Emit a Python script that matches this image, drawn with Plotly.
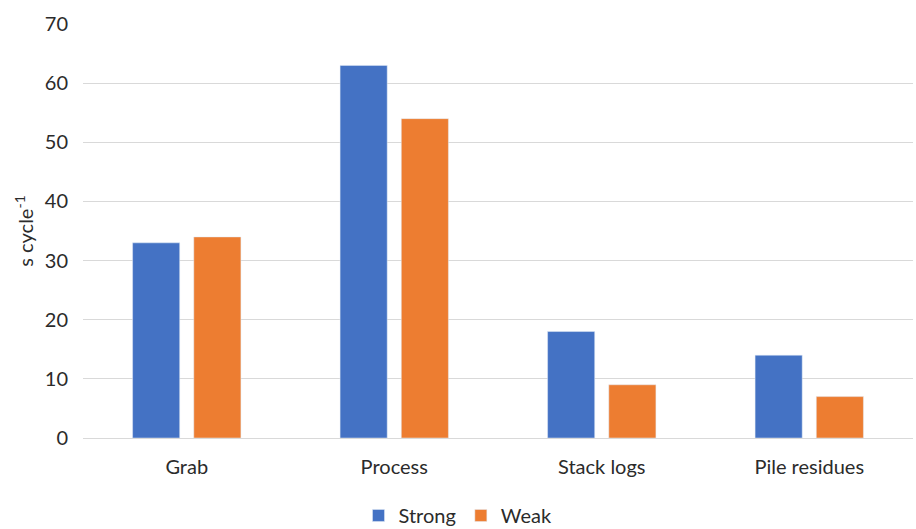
import plotly.graph_objects as go

categories = ["Grab", "Process", "Stack logs", "Pile residues"]
strong = [33, 63, 18, 14]
weak = [34, 54, 9, 7]
y_ticks = [0, 10, 20, 30, 40, 50, 60, 70]

font_family = "Lato, Open Sans, Liberation Sans, sans-serif"
text_color = "#2b2b2b"

fig = go.Figure()
fig.add_trace(go.Bar(name="Strong", x=categories, y=strong, marker_color="#4472C4"))
fig.add_trace(go.Bar(name="Weak", x=categories, y=weak, marker_color="#ED7D31"))

fig.update_layout(
    width=916,
    height=529,
    margin=dict(l=83, r=3, t=24, b=91, autoexpand=False),
    paper_bgcolor="white",
    plot_bgcolor="white",
    barmode="group",
    bargap=0.41,
    bargroupgap=0.23,
    font=dict(family=font_family, size=19, color=text_color),
    showlegend=True,
    legend=dict(
        orientation="h",
        x=0.5,
        xanchor="center",
        xref="container",
        y=-0.14,
        yanchor="top",
        yref="paper",
        font=dict(size=20, color=text_color),
        itemwidth=30,
        tracegroupgap=0,
    ),
    xaxis=dict(
        showgrid=False,
        showline=True,
        linecolor="#d9d9d9",
        linewidth=1,
        ticks="",
        ticklabelstandoff=11,
        tickfont=dict(size=20, color=text_color),
    ),
    yaxis=dict(
        range=[0, 70],
        tickvals=y_ticks,
        showgrid=True,
        gridcolor="#d9d9d9",
        gridwidth=1,
        zeroline=False,
        showline=False,
        ticks="",
        ticklabelstandoff=14,
        tickfont=dict(size=20, color=text_color),
        title=dict(text="s cycle<sup>-1</sup>", font=dict(size=20, color=text_color), standoff=5),
    ),
)

fig.write_html("out.html")
